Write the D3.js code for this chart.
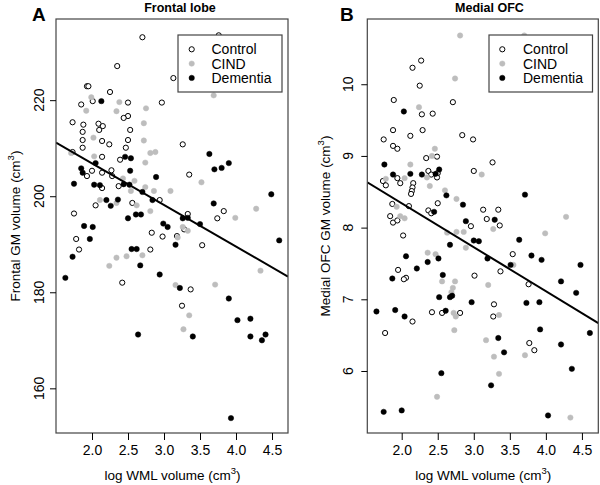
<!DOCTYPE html>
<html>
<head>
<meta charset="utf-8">
<script src="https://cdn.jsdelivr.net/npm/d3@7"></script>
<style>
body{margin:0;background:#fff;}
svg{display:block;font-family:"Liberation Sans",Arial,sans-serif;}
</style>
</head>
<body>
<svg id="chart" width="600" height="485"></svg>
<script>
// ---------- DATA ----------
const groups = ["Control", "CIND", "Dementia"];
const xTicks = [2.0, 2.5, 3.0, 3.5, 4.0, 4.5];
const frontalTicks = [160, 180, 200, 220];
const ofcTicks = [6, 7, 8, 9, 10];
// regression fits: [intercept, slope]
const frontalFit = [224.16, -8.66];
const ofcFit = [9.564, -0.6125];

// Panel A: Frontal lobe  [log WML, GM volume]
const frontalControl = [
[2.70,233.1],[3.76,233.5],[2.35,227.1],[3.13,224.6],[1.93,222.9],[1.95,222.9],[2.25,221.7],[2.01,219.8],
[1.85,219.1],[2.50,219.5],[2.97,219.5],[2.50,216.7],[2.44,216.3],[1.73,215.4],[1.88,214.9],[2.09,215.1],
[2.15,214.6],[2.53,213.8],[1.87,213.4],[2.10,213.8],[1.87,211.7],[2.14,211.5],[2.24,210.8],[2.50,211.7],
[2.47,210.1],[3.26,210.8],[1.87,210.1],[2.14,208.2],[2.27,205.4],[2.39,207.6],[2.00,205.3],[1.93,204.2],
[2.14,204.9],[2.28,204.2],[2.37,202.1],[2.14,201.7],[2.05,198.1],[2.56,198.6],[2.94,199.2],[3.35,204.5],
[1.75,196.4],[1.78,191.1],[1.82,188.9],[2.83,192.4],[2.98,191.6],[3.18,191.7],[3.28,193.1],[3.33,196.3],
[3.74,195.4],[3.83,196.9],[3.53,189.8],[2.81,188.9],[2.42,182.0],[3.37,180.6],[3.25,177.2],[1.73,209.2]
];
const frontalCIND = [
[1.99,220.6],[1.92,217.8],[2.38,219.6],[2.34,217.7],[2.75,218.3],[2.72,215.2],[2.02,212.2],[2.72,211.6],
[2.81,209.0],[2.88,209.2],[3.69,221.0],[2.03,208.3],[1.71,209.0],[2.74,207.0],[2.43,203.7],[2.59,203.2],
[2.74,201.9],[2.86,201.1],[3.09,201.1],[2.54,201.1],[2.62,198.1],[2.81,196.9],[2.34,198.6],[2.11,199.2],
[3.52,202.9],[3.99,195.5],[4.28,197.4],[3.26,193.6],[3.33,192.8],[3.19,191.4],[2.34,187.2],[2.48,187.5],
[2.70,187.7],[2.24,185.5],[3.16,181.5],[3.71,181.6],[4.34,184.5],[3.35,175.2],[3.27,172.3]
];
const frontalDementia = [
[2.13,219.8],[3.63,208.8],[2.46,208.2],[2.54,207.9],[2.05,206.9],[1.85,205.8],[1.87,204.9],[2.53,205.3],
[2.89,204.0],[1.75,202.6],[2.03,202.4],[2.11,202.3],[2.44,202.5],[2.52,202.4],[2.70,200.9],[2.84,199.2],
[2.20,199.2],[2.26,198.0],[2.36,199.3],[2.50,195.4],[2.61,196.2],[2.68,196.2],[3.26,195.4],[3.33,195.5],
[3.50,194.2],[3.69,198.5],[3.70,205.6],[3.80,205.9],[3.90,206.9],[4.49,200.4],[4.60,190.8],[1.89,193.8],
[2.01,193.6],[1.97,191.1],[1.73,187.4],[1.63,183.0],[2.99,194.3],[3.05,193.6],[3.16,189.9],[2.55,189.0],
[2.62,189.0],[2.67,185.6],[2.94,183.7],[3.22,180.9],[3.90,178.7],[2.64,171.2],[3.40,170.8],[4.02,174.2],
[4.20,174.5],[4.20,170.8],[4.36,170.0],[4.41,171.2],[3.93,153.8]
];

// Panel B: Medial OFC  [log WML, GM volume]
const ofcControl = [
[2.27,10.33],[2.15,10.23],[2.25,9.98],[1.89,9.78],[2.71,9.75],[2.28,9.58],[2.43,9.59],[1.88,9.36],
[2.29,9.36],[2.12,9.28],[1.75,9.23],[1.88,9.14],[1.94,9.10],[2.84,9.29],[2.99,9.23],[2.34,8.97],
[2.49,8.99],[3.26,8.91],[3.00,8.79],[1.74,8.65],[1.78,8.59],[1.94,8.69],[1.98,8.62],[2.16,8.62],
[2.15,8.56],[2.14,8.51],[2.13,8.47],[2.37,8.79],[2.41,8.74],[2.50,8.76],[2.49,8.70],[1.87,8.33],
[2.10,8.30],[2.50,8.34],[1.84,8.16],[1.88,8.07],[1.94,8.10],[2.02,7.89],[2.37,8.24],[2.41,8.20],
[3.13,8.25],[3.18,8.12],[3.34,8.25],[3.36,8.03],[2.96,8.02],[1.95,7.41],[2.06,7.30],[2.03,7.28],
[3.01,7.33],[3.37,7.39],[3.54,7.63],[3.76,7.21],[3.28,6.93],[3.27,6.76],[1.77,6.53],[2.15,6.69],
[2.42,6.82],[2.56,6.81],[2.81,6.81],[3.77,6.39],[3.84,6.29]
];
const ofcCIND = [
[2.81,10.68],[3.70,10.68],[2.74,10.08],[2.24,9.68],[2.46,9.10],[2.42,9.00],[2.12,8.88],[1.78,8.68],
[2.04,8.69],[2.35,8.70],[2.39,8.58],[2.60,8.52],[2.76,8.40],[3.11,8.74],[1.93,8.29],[1.98,8.16],
[2.04,8.13],[4.28,8.15],[3.99,7.92],[3.27,7.98],[2.63,7.93],[2.76,7.94],[2.86,7.94],[2.89,7.72],
[2.36,7.65],[2.47,7.63],[3.55,7.48],[3.20,7.20],[2.56,7.25],[2.74,7.25],[2.71,7.16],[2.69,7.10],
[3.35,6.78],[2.72,6.81],[2.75,6.76],[2.73,6.57],[3.17,6.43],[3.28,6.20],[3.35,5.96],[3.71,6.22],
[2.49,5.64],[4.34,5.35]
];
const ofcDementia = [
[2.03,9.62],[1.76,8.88],[1.88,8.74],[2.12,8.75],[2.28,8.74],[2.47,8.75],[2.52,8.81],[2.62,8.45],
[2.85,8.32],[2.89,8.09],[2.45,8.22],[3.71,8.46],[3.29,8.11],[2.67,7.76],[3.00,7.82],[3.07,7.81],
[3.19,7.57],[3.63,7.83],[3.80,7.61],[3.94,7.55],[3.51,7.48],[4.48,7.48],[2.06,7.60],[1.87,7.29],
[2.21,7.43],[2.36,7.52],[2.51,7.57],[2.57,7.34],[2.52,7.03],[2.67,7.03],[2.70,7.05],[2.97,6.96],
[4.21,7.25],[4.42,7.09],[3.73,6.95],[3.91,6.96],[3.92,6.58],[1.65,6.83],[1.91,6.85],[2.04,6.76],
[2.61,6.84],[3.34,6.46],[3.42,6.26],[4.21,6.37],[4.61,6.53],[4.36,6.03],[2.55,5.97],[3.24,5.80],
[1.75,5.43],[2.00,5.45],[4.03,5.38]
];

// ---------- DRAW ----------
const svg = d3.select("#chart");
const GRAY = "#bdbdbd";

const panels = [
  {letter:"A", title:"Frontal lobe", titleX:180, letterX:32, ylabel:"Frontal GM volume (cm", ylabX:20,
   left:56, right:288, top:19, bottom:433, xdom:[1.5,4.722], ydom:[150.7,236.9],
   yticks:frontalTicks, tickLabX:43.5, fit:frontalFit,
   data:[frontalControl, frontalCIND, frontalDementia], legend:{x0:178,x1:282,symX:191.7,txtX:211.5}},
  {letter:"B", title:"Medial OFC", titleX:489.5, letterX:340, ylabel:"Medial OFC GM volume (cm", ylabX:330,
   left:367.3, right:598.3, top:19, bottom:433, xdom:[1.523,4.727], ydom:[5.135,10.91],
   yticks:ofcTicks, tickLabX:353, fit:ofcFit,
   data:[ofcControl, ofcCIND, ofcDementia], legend:{x0:489,x1:592.5,symX:502.3,txtX:523}}
];

panels.forEach((p, pi) => {
  const g = svg.append("g");
  const x = d3.scaleLinear().domain(p.xdom).range([p.left, p.right]);
  const y = d3.scaleLinear().domain(p.ydom).range([p.bottom, p.top]);
  const clipId = "clip" + pi;
  svg.append("clipPath").attr("id", clipId).append("rect")
    .attr("x", p.left).attr("y", p.top).attr("width", p.right - p.left).attr("height", p.bottom - p.top);

  // points
  const styles = [
    {fill:"#fff", stroke:"#000", sw:1, r:2.6},
    {fill:GRAY, stroke:GRAY, sw:0.5, r:2.7},
    {fill:"#000", stroke:"#000", sw:0.5, r:2.7}
  ];
  p.data.forEach((arr, gi) => {
    const s = styles[gi];
    g.append("g").attr("clip-path", `url(#${clipId})`).selectAll("circle").data(arr).join("circle")
      .attr("cx", d => x(d[0])).attr("cy", d => y(d[1])).attr("r", s.r)
      .attr("fill", s.fill).attr("stroke", s.stroke).attr("stroke-width", s.sw);
  });

  // regression line
  const [b0, b1] = p.fit;
  g.append("line").attr("clip-path", `url(#${clipId})`)
    .attr("x1", x(p.xdom[0])).attr("y1", y(b0 + b1 * p.xdom[0]))
    .attr("x2", x(p.xdom[1])).attr("y2", y(b0 + b1 * p.xdom[1]))
    .attr("stroke", "#000").attr("stroke-width", 2);

  // frame
  g.append("rect").attr("x", p.left).attr("y", p.top)
    .attr("width", p.right - p.left).attr("height", p.bottom - p.top)
    .attr("fill", "none").attr("stroke", "#444").attr("stroke-width", 1.2);

  // x axis
  const xa = g.append("g").attr("transform", `translate(0,${p.bottom})`)
    .call(d3.axisBottom(x).tickValues(xTicks).tickFormat(d3.format(".1f")).tickSize(7).tickPadding(5));
  xa.select(".domain").remove();
  xa.selectAll("line").attr("stroke", "#000");
  xa.selectAll("text").attr("font-size", 14).attr("fill", "#000")
    .attr("font-family", '"Liberation Sans",Arial,sans-serif');

  // y axis
  const ya = g.append("g").attr("transform", `translate(${p.left},0)`)
    .call(d3.axisLeft(y).tickValues(p.yticks).tickSize(6).tickFormat(d3.format("d")));
  ya.select(".domain").remove();
  ya.selectAll("line").attr("stroke", "#000");
  ya.selectAll("text").remove();
  g.selectAll(".ylab").data(p.yticks).join("text")
    .attr("transform", d => `translate(${p.tickLabX},${y(d)}) rotate(-90)`)
    .attr("text-anchor", "middle").attr("font-size", 14).text(d => d);

  // titles
  g.append("text").attr("x", p.titleX).attr("y", 12).attr("text-anchor", "middle")
    .attr("font-size", 12.5).attr("font-weight", "bold").text(p.title);
  g.append("text").attr("x", p.letterX).attr("y", 20.7)
    .attr("font-size", 19).attr("font-weight", "bold").text(p.letter);

  // x label
  const xl = g.append("text").attr("x", (p.left + p.right) / 2 + 0.5).attr("y", 480)
    .attr("text-anchor", "middle").attr("font-size", 13.5);
  xl.append("tspan").text("log WML volume (cm");
  xl.append("tspan").attr("dy", -6).attr("font-size", 9.5).text("3");
  xl.append("tspan").attr("dy", 6).text(")");

  // y label
  const yl = g.append("text")
    .attr("transform", `translate(${p.ylabX},${(p.top + p.bottom) / 2}) rotate(-90)`)
    .attr("text-anchor", "middle").attr("font-size", 13.5);
  yl.append("tspan").text(p.ylabel);
  yl.append("tspan").attr("dy", -6).attr("font-size", 9.5).text("3");
  yl.append("tspan").attr("dy", 6).text(")");

  // legend
  const L = p.legend;
  g.append("rect").attr("x", L.x0).attr("y", 35).attr("width", L.x1 - L.x0).attr("height", 57)
    .attr("fill", "#fff").attr("stroke", "#444").attr("stroke-width", 1.2);
  const rowsY = [49.3, 63.6, 77.9];
  groups.forEach((name, gi) => {
    const s = styles[gi];
    g.append("circle").attr("cx", L.symX).attr("cy", rowsY[gi]).attr("r", s.r)
      .attr("fill", s.fill).attr("stroke", s.stroke).attr("stroke-width", s.sw);
    g.append("text").attr("x", L.txtX).attr("y", rowsY[gi] + 5)
      .attr("font-size", 14).text(name);
  });
});
</script>
</body>
</html>
